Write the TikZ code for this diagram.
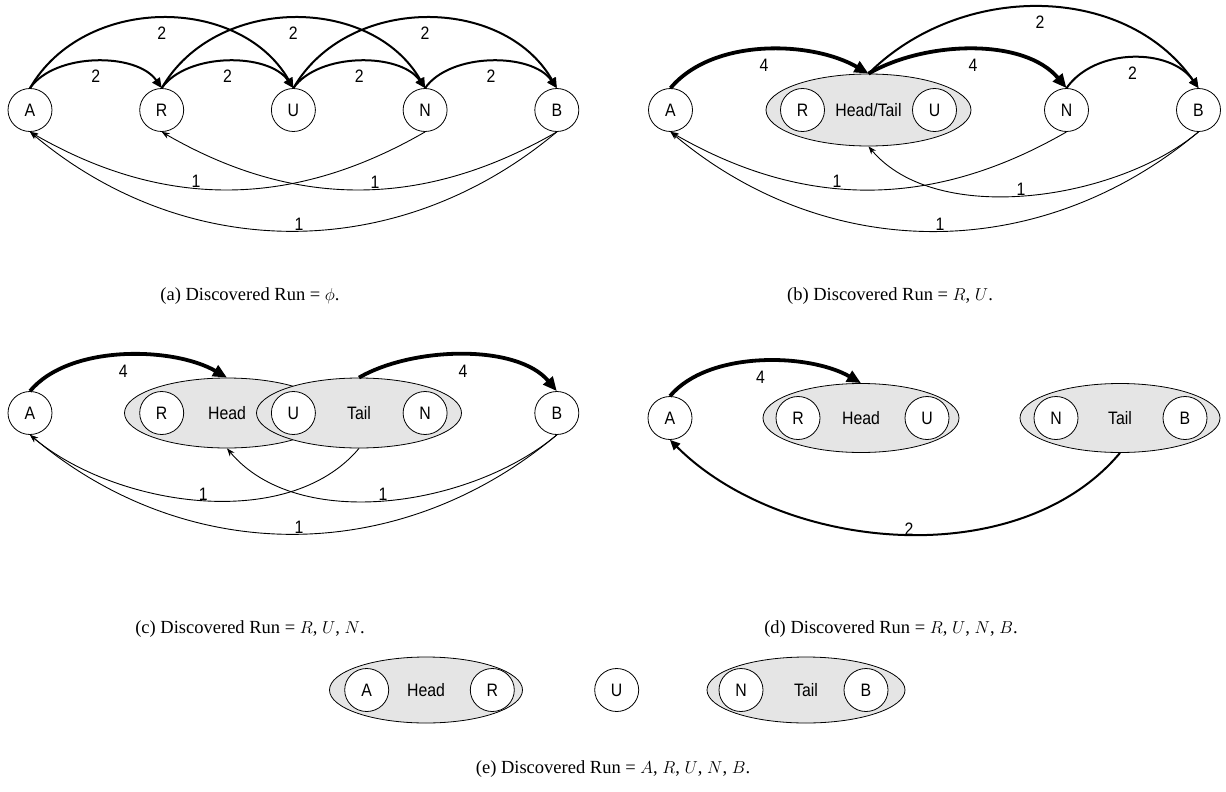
\documentclass[tikz,border=0pt]{standalone}
\usepackage{fontspec}
\setmainfont{Liberation Serif}
\newfontfamily\nodefont[FakeStretch=0.88]{Liberation Sans}
\usetikzlibrary{shapes.geometric,arrows.meta}
\tikzset{
  vtx/.style={ellipse, draw, fill=white, line width=0.8pt, minimum width=44pt, minimum height=43pt, inner sep=0pt, font=\nodefont\fontsize{18}{21}\selectfont},
  grp/.style={ellipse, draw, fill=black!10, line width=0.8pt, minimum height=70pt, inner sep=0pt, font=\nodefont\fontsize{18}{21}\selectfont},
  wt/.style={inner sep=1pt, font=\nodefont\fontsize{18}{21}\selectfont},
  e1/.style={-{Stealth[length=8pt,width=6pt]}, line width=0.9pt},
  e2/.style={-{Triangle[length=10pt,width=9pt]}, line width=2pt},
  e4/.style={-{Triangle[length=14pt,width=12pt]}, line width=3.8pt},
  subcap/.style={font=\fontsize{18.5}{22}\selectfont},
}
\begin{document}
\begin{tikzpicture}[x=1pt,y=1pt]
\useasboundingbox (0,0) rectangle (1226,-792);

\node[vtx] (aA) at (30,-110) {A};
\node[vtx] (aR) at (161.7,-110) {R};
\node[vtx] (aU) at (293.4,-110) {U};
\node[vtx] (aN) at (425.1,-110) {N};
\node[vtx] (aB) at (556.8,-110) {B};
\draw[e2] (aA.north) to[out=55,in=125,looseness=0.85] node[wt,below=7pt] {2} (aR.north);
\draw[e2] (aR.north) to[out=55,in=125,looseness=0.85] node[wt,below=7pt] {2} (aU.north);
\draw[e2] (aU.north) to[out=55,in=125,looseness=0.85] node[wt,below=7pt] {2} (aN.north);
\draw[e2] (aN.north) to[out=55,in=125,looseness=0.85] node[wt,below=7pt] {2} (aB.north);
\draw[e2] (aA.north) to[out=60,in=120,looseness=1.05] node[wt,below=7pt] {2} (aU.north);
\draw[e2] (aR.north) to[out=60,in=120,looseness=1.05] node[wt,below=7pt] {2} (aN.north);
\draw[e2] (aU.north) to[out=60,in=120,looseness=1.05] node[wt,below=7pt] {2} (aB.north);
\draw[e1] (aN.south) to[out=-150,in=-30] node[wt,pos=0.58,above=-1pt] {1} (aA.south);
\draw[e1] (aB.south) to[out=-150,in=-30] node[wt,pos=0.46,above=-1pt] {1} (aR.south);
\draw[e1] (aB.south) to[out=-140,in=-40] node[wt,pos=0.49,above=-1pt] {1} (aA.south);
\node[subcap] (capa) at (250,-296) {(a) Discovered Run = $\phi$.};

\node[vtx] (bA) at (670.5,-110) {A};
\node[grp, minimum width=205pt, minimum height=72pt] (bHT) at (868.5,-110) {Head/Tail};
\node[vtx] (bR) at (802.5,-110) {R};
\node[vtx] (bU) at (934.5,-110) {U};
\node[vtx] (bN) at (1066.5,-110) {N};
\node[vtx] (bB) at (1198.5,-110) {B};
\draw[e4] (bA.north) to[out=50,in=150,looseness=0.85] node[wt,below=7pt] {4} (bHT.north);
\draw[e4] (bHT.north) to[out=30,in=130,looseness=0.85] node[wt,below=7pt] {4} (bN.north);
\draw[e2] (bHT.north) to[out=45,in=125] node[wt,below=7pt] {2} (bB.north);
\draw[e2] (bN.north) to[out=55,in=125,looseness=0.96] node[wt,below=7pt] {2} (bB.north);
\draw[e1] (bN.south) to[out=-150,in=-30] node[wt,pos=0.58,above=-1pt] {1} (bA.south);
\draw[e1] (bB.south) to[out=-140,in=-50,looseness=0.82] node[wt,pos=0.52,above=-1pt] {1} (bHT.south);
\draw[e1] (bB.south) to[out=-140,in=-40] node[wt,pos=0.49,above=-1pt] {1} (bA.south);
\node[subcap] (capb) at (890,-296) {(b) Discovered Run = $R$, $U$.};

\node[vtx] (cA) at (30,-413) {A};
\node[grp, minimum width=205pt] (cH) at (227,-413) {Head};
\node[grp, minimum width=205pt] (cT) at (359,-413) {Tail};
\node[vtx] (cR) at (161.7,-413) {R};
\node[vtx] (cU) at (293.4,-413) {U};
\node[vtx] (cN) at (425.1,-413) {N};
\node[vtx] (cB) at (556.8,-413) {B};
\draw[e4] (cA.north) to[out=50,in=150,looseness=0.8] node[wt,below=7pt] {4} (cH.north);
\draw[e4] (cT.north) to[out=30,in=130,looseness=0.8] node[wt,below=7pt] {4} (cB.north);
\draw[e1] (cT.south) to[out=-130,in=-40,looseness=0.86] node[wt,pos=0.49,above=-1pt] {1} (cA.south);
\draw[e1] (cB.south) to[out=-140,in=-50,looseness=0.86] node[wt,pos=0.51,above=-1pt] {1} (cH.south);
\draw[e1] (cB.south) to[out=-140,in=-40] node[wt,pos=0.49,above=-1pt] {1} (cA.south);
\node[subcap] (capc) at (250,-629) {(c) Discovered Run = $R$, $U$, $N$.};

\node[vtx] (dA) at (670,-418) {A};
\node[grp, minimum width=196pt, minimum height=69pt] (dH) at (861,-418) {Head};
\node[vtx] (dR) at (798,-418) {R};
\node[vtx] (dU) at (927,-418) {U};
\node[grp, minimum width=200pt, minimum height=69pt] (dT) at (1120,-418) {Tail};
\node[vtx] (dN) at (1056,-418) {N};
\node[vtx] (dB) at (1185,-418) {B};
\draw[e4] (dA.north) to[out=50,in=150,looseness=0.8] node[wt,below=7pt] {4} (dH.north);
\draw[e2] (dT.south) to[out=-130,in=-45,looseness=0.9] node[wt,pos=0.48,above=-3pt] {2} (dA.south);
\node[subcap] (capd) at (891,-629) {(d) Discovered Run = $R$, $U$, $N$, $B$.};

\node[grp, minimum width=193pt, minimum height=66pt] (eH) at (426,-690) {Head};
\node[vtx] (eA) at (366.7,-690) {A};
\node[vtx] (eR) at (492.3,-690) {R};
\node[vtx] (eU) at (616.7,-690) {U};
\node[grp, minimum width=198pt, minimum height=66pt] (eT) at (806,-690) {Tail};
\node[vtx] (eN) at (741,-690) {N};
\node[vtx] (eB) at (866,-690) {B};
\node[subcap] (cape) at (613,-769) {(e) Discovered Run = $A$, $R$, $U$, $N$, $B$.};
\end{tikzpicture}
\end{document}
